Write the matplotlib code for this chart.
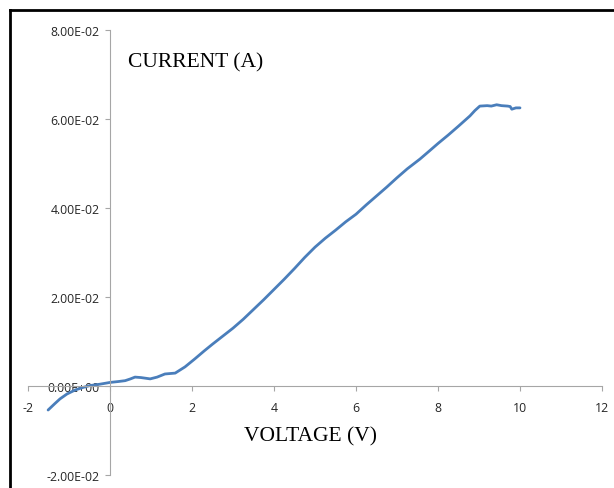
import matplotlib
matplotlib.use("Agg")
import matplotlib.pyplot as plt
from matplotlib.ticker import FuncFormatter
from matplotlib.lines import Line2D

plt.rcParams['axes.unicode_minus'] = False

# I-V curve
voltage = [-1.51, -1.35, -1.22, -1.05, -0.85, -0.65, -0.49, -0.25, 0.0, 0.2, 0.37, 0.5, 0.61,
           0.75, 0.98, 1.15, 1.34, 1.59, 1.83, 2.07, 2.3, 2.5, 2.75, 3.0, 3.25, 3.5, 3.75,
           4.0, 4.25, 4.5, 4.75, 5.0, 5.25, 5.5, 5.75, 6.0, 6.25, 6.5, 6.75, 7.0, 7.25,
           7.56, 7.8, 8.0, 8.25, 8.5, 8.78, 8.9, 9.02, 9.2, 9.3, 9.43, 9.55, 9.7, 9.76,
           9.8, 9.9, 10.0]
current = [-0.0054, -0.0040, -0.0029, -0.0018, -0.0009, -0.0003, 0.0001, 0.0004, 0.0008, 0.0010,
           0.0012, 0.0016, 0.0020, 0.0019, 0.0016, 0.0020, 0.0027, 0.0029, 0.0043, 0.0061,
           0.0079, 0.0094, 0.0112, 0.0130, 0.0150, 0.0172, 0.0194, 0.0217, 0.0240, 0.0264,
           0.0289, 0.0312, 0.0332, 0.0350, 0.0369, 0.0386, 0.0407, 0.0427, 0.0447, 0.0468,
           0.0488, 0.0510, 0.0529, 0.0545, 0.0564, 0.0584, 0.0607, 0.0619, 0.0629, 0.0630,
           0.0629, 0.0632, 0.0630, 0.0629, 0.0628, 0.0622, 0.0625, 0.0625]

x_ticks = [-2, 0, 2, 4, 6, 8, 10, 12]
y_ticks = [-0.02, 0.0, 0.02, 0.04, 0.06, 0.08]

fig = plt.figure(figsize=(6.14, 4.89), dpi=100)
ax = fig.add_axes([28 / 614, 1 - 476 / 489, (602 - 28) / 614, (476 - 31) / 489])

ax.plot(voltage, current, color="#4a7ebb", lw=2.0, solid_capstyle="round")

ax.set_xlim(-2, 12)
ax.set_ylim(-0.02, 0.08)
ax.set_xticks(x_ticks)
ax.set_yticks(y_ticks)
ax.yaxis.set_major_formatter(FuncFormatter(lambda v, p: f"{v:.2E}"))

ax.spines["left"].set_position(("data", 0))
ax.spines["bottom"].set_position(("data", 0))
ax.spines["right"].set_visible(False)
ax.spines["top"].set_visible(False)
for s in ("left", "bottom"):
    ax.spines[s].set_color("#a6a6a6")
    ax.spines[s].set_linewidth(0.8)
ax.tick_params(direction="out", length=3.5, width=0.8, color="#a6a6a6",
               labelsize=8.8, labelcolor="#262626", pad=4)
ax.tick_params(axis="x", pad=7)
for lab in ax.get_xticklabels() + ax.get_yticklabels():
    lab.set_fontfamily("Open Sans")
ax.set_facecolor("none")

ax.text(0.44, 0.0728, "CURRENT (A)", fontsize=15.5, family="Liberation Serif",
        ha="left", va="center")
ax.text(4.88, -0.0112, "VOLTAGE (V)", fontsize=15.5, family="Liberation Serif",
        ha="center", va="center")

# frame of the screenshot, left and top edges only
fig.add_artist(Line2D([10 / 614, 10 / 614], [0, 1 - 11 / 489], color="black", lw=2))
fig.add_artist(Line2D([10 / 614, 1], [1 - 11 / 489, 1 - 11 / 489], color="black", lw=2))

fig.savefig("out.png", dpi=100)
